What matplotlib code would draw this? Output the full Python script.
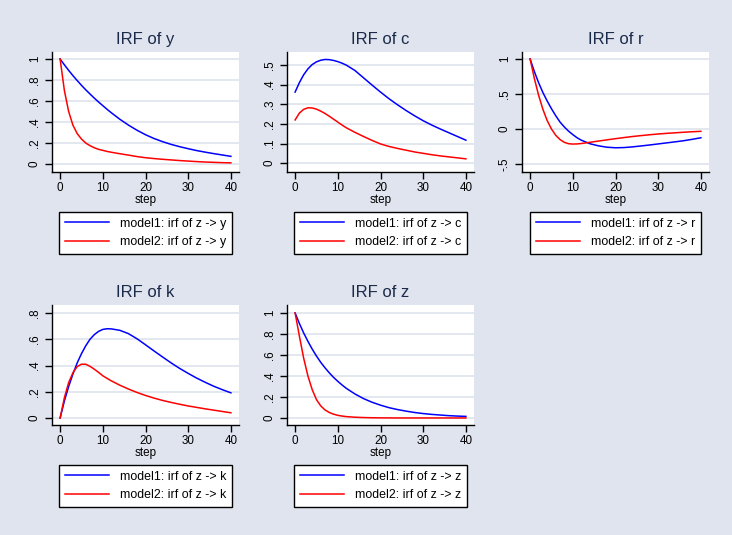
import matplotlib
matplotlib.use('Agg')
import matplotlib.pyplot as plt

plt.rcParams['font.family'] = ['Liberation Sans', 'DejaVu Sans']

# --- data (impulse responses by step) ---
steps = [0, 1, 2, 3, 4, 5, 6, 7, 8, 9, 10, 11, 12, 14, 16, 18, 20,
         22, 24, 26, 28, 30, 32, 34, 36, 38, 40]

y_model1 = [1.0, 0.945, 0.892, 0.842, 0.795, 0.75, 0.707, 0.667, 0.628, 0.591,
            0.556, 0.521, 0.488, 0.426, 0.371, 0.322, 0.279, 0.243, 0.213, 0.187,
            0.165, 0.146, 0.128, 0.113, 0.099, 0.086, 0.073]
y_model2 = [1.0, 0.7, 0.5, 0.37, 0.29, 0.238, 0.2, 0.175, 0.155, 0.14, 0.13,
            0.12, 0.112, 0.098, 0.085, 0.071, 0.06, 0.052, 0.045, 0.039, 0.033,
            0.028, 0.023, 0.019, 0.016, 0.013, 0.011]

c_model1 = [0.362, 0.41, 0.45, 0.48, 0.502, 0.516, 0.524, 0.528, 0.527, 0.523,
            0.517, 0.509, 0.499, 0.472, 0.435, 0.398, 0.362, 0.328, 0.297, 0.268,
            0.241, 0.216, 0.194, 0.174, 0.155, 0.136, 0.117]
c_model2 = [0.22, 0.255, 0.274, 0.282, 0.281, 0.275, 0.265, 0.253, 0.239, 0.224,
            0.209, 0.194, 0.18, 0.157, 0.136, 0.116, 0.098, 0.085, 0.075, 0.066,
            0.057, 0.05, 0.043, 0.037, 0.032, 0.027, 0.022]

r_model1 = [1.0, 0.82, 0.66, 0.52, 0.40, 0.29, 0.19, 0.10, 0.03, -0.03, -0.08,
            -0.125, -0.16, -0.21, -0.24, -0.26, -0.268, -0.265, -0.255, -0.242,
            -0.228, -0.213, -0.198, -0.183, -0.167, -0.147, -0.125]
r_model2 = [1.0, 0.72, 0.48, 0.28, 0.12, 0.0, -0.09, -0.15, -0.19, -0.21, -0.215,
            -0.213, -0.207, -0.19, -0.172, -0.155, -0.138, -0.122, -0.107, -0.094,
            -0.082, -0.071, -0.062, -0.054, -0.046, -0.039, -0.033]

k_model1 = [0.0, 0.13, 0.24, 0.335, 0.42, 0.49, 0.55, 0.6, 0.635, 0.66, 0.675,
            0.68, 0.679, 0.668, 0.643, 0.604, 0.558, 0.511, 0.465, 0.42, 0.378,
            0.34, 0.304, 0.272, 0.242, 0.216, 0.192]
k_model2 = [0.0, 0.155, 0.27, 0.345, 0.392, 0.41, 0.41, 0.394, 0.372, 0.348,
            0.322, 0.302, 0.283, 0.25, 0.221, 0.195, 0.172, 0.152, 0.134, 0.119,
            0.105, 0.092, 0.081, 0.07, 0.06, 0.05, 0.04]

z_model1 = [1.0, 0.9, 0.81, 0.73, 0.656, 0.59, 0.53, 0.478, 0.43, 0.387, 0.349,
            0.314, 0.282, 0.229, 0.185, 0.15, 0.122, 0.098, 0.08, 0.065, 0.052,
            0.042, 0.034, 0.028, 0.022, 0.018, 0.015]
z_model2 = [1.0, 0.78, 0.57, 0.4, 0.27, 0.175, 0.115, 0.077, 0.052, 0.036, 0.025,
            0.018, 0.013, 0.007, 0.004, 0.002, 0.001, 0.0005, 0.0, 0.0, 0.0,
            0.0, 0.0, 0.0, 0.0, 0.0, 0.0]

variables = ['y', 'c', 'r', 'k', 'z']
x_ticks = [0, 10, 20, 30, 40]

y_ticks = {
    'y': [0, 0.2, 0.4, 0.6, 0.8, 1.0],
    'c': [0, 0.1, 0.2, 0.3, 0.4, 0.5],
    'r': [-0.5, 0, 0.5, 1.0],
    'k': [0, 0.2, 0.4, 0.6, 0.8],
    'z': [0, 0.2, 0.4, 0.6, 0.8, 1.0],
}
y_ticklabels = {
    'y': ['0', '.2', '.4', '.6', '.8', '1'],
    'c': ['0', '.1', '.2', '.3', '.4', '.5'],
    'r': ['-.5', '0', '.5', '1'],
    'k': ['0', '.2', '.4', '.6', '.8'],
    'z': ['0', '.2', '.4', '.6', '.8', '1'],
}
series = {
    'y': (y_model1, y_model2),
    'c': (c_model1, c_model2),
    'r': (r_model1, r_model2),
    'k': (k_model1, k_model2),
    'z': (z_model1, z_model2),
}

#%% ------------------------------- ###
###          Layout / style         ###
### ------------------------------- ###

W, H = 732, 535
bg = '#dfe4ee'
grid_col = '#dde3ee'
title_col = '#1c2a4a'

# plot regions in pixels: left, top, right, bottom
boxes = {
    'y': (52, 52, 239, 172),
    'c': (287, 52, 474, 172),
    'r': (522, 52, 709, 172),
    'k': (52, 305, 239, 425),
    'z': (287, 305, 474, 425),
}
ylims = {
    'y': (-0.076, 1.067),
    'c': (-0.045, 0.566),
    'r': (-0.614, 1.10),
    'k': (-0.053, 0.861),
    'z': (-0.067, 1.076),
}

fig = plt.figure(figsize=(W / 100, H / 100), dpi=100)
fig.patch.set_facecolor(bg)

for var in variables:
    l, t, r, b = boxes[var]
    ax = fig.add_axes([l / W, 1 - b / H, (r - l) / W, (b - t) / H])
    ax.set_facecolor('white')

    m1, m2 = series[var]
    ax.plot(steps, m1, color='#0000ff', lw=1.1,
            label='model1: irf of z -> %s' % var)
    ax.plot(steps, m2, color='#ff0000', lw=1.1,
            label='model2: irf of z -> %s' % var)

    ax.set_xlim(-1.9, 41.9)
    ax.set_ylim(*ylims[var])
    ax.set_xticks(x_ticks)
    ax.set_yticks(y_ticks[var])
    ax.set_yticklabels(y_ticklabels[var], rotation=90, va='center')

    for s in ['top', 'right']:
        ax.spines[s].set_visible(False)
    for s in ['left', 'bottom']:
        ax.spines[s].set_linewidth(1.0)
        ax.spines[s].set_color('black')

    ax.tick_params(direction='out', length=5, width=1, labelsize=8.4,
                   colors='black')
    ax.tick_params(axis='x', pad=2)
    ax.tick_params(axis='y', pad=3)
    ax.yaxis.grid(True, color=grid_col, lw=1.2)
    ax.set_axisbelow(True)

    ax.set_xlabel('step', fontsize=8.4, labelpad=0.5)
    ax.set_title('IRF of %s' % var, fontsize=12, color=title_col, pad=6)

    leg = ax.legend(loc='upper center', bbox_to_anchor=(0.5, -0.333),
                    ncol=1, fontsize=8.9, frameon=True, fancybox=False,
                    edgecolor='black', framealpha=1, facecolor='white',
                    handlelength=3.6, handletextpad=0.9, labelspacing=0.55,
                    borderpad=0.45, borderaxespad=0)
    leg.get_frame().set_linewidth(1.0)

fig.savefig('out.png', dpi=100, facecolor=bg)
